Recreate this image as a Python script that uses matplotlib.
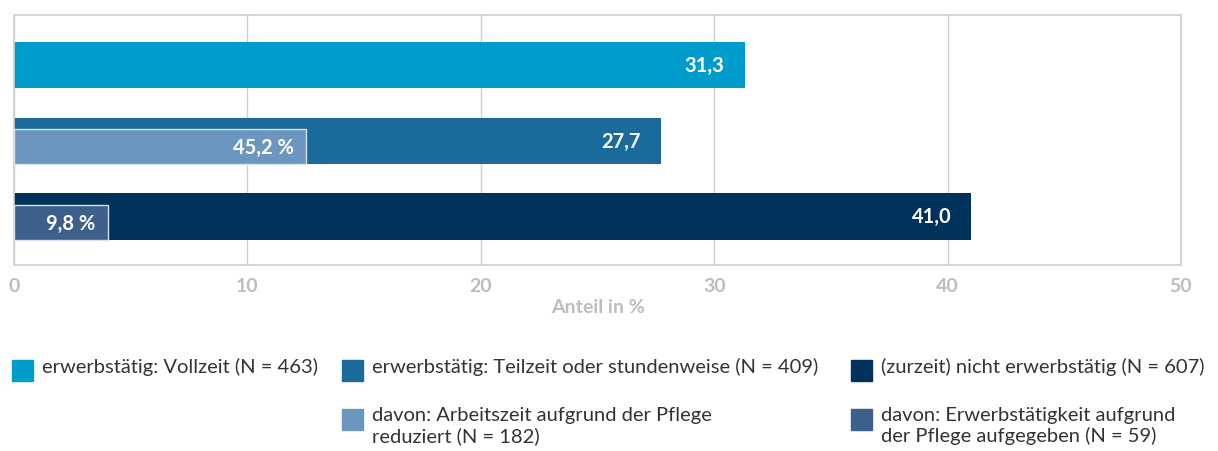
import matplotlib.pyplot as plt
from matplotlib.patches import Rectangle

plt.rcParams['font.family'] = ['Lato', 'DejaVu Sans']

# data
groups = ["erwerbstätig: Vollzeit (N = 463)",
          "erwerbstätig: Teilzeit oder stundenweise (N = 409)",
          "(zurzeit) nicht erwerbstätig (N = 607)"]
values = [31.3, 27.7, 41.0]
value_labels = ["31,3", "27,7", "41,0"]
colors = ["#009ccb", "#1a6a9b", "#00325b"]

# "davon" shares (percent of parent bar), None = no sub bar
sub_shares = [None, 45.2, 9.8]
sub_labels = [None, "45,2 %", "9,8 %"]
sub_legend = [None, "davon: Arbeitszeit aufgrund der Pflege\nreduziert (N = 182)",
              "davon: Erwerbstätigkeit aufgrund\nder Pflege aufgegeben (N = 59)"]
sub_colors = [None, "#6b96bf", "#3d5f8b"]

W, H = 1218, 451
fig = plt.figure(figsize=(W / 100, H / 100), dpi=100)
ax = fig.add_axes([14 / W, (H - 265) / H, (1181 - 14) / W, 250 / H])

pos = [0, 1, 2]
bh = 0.61
sub_h = 0.462
ax.barh(pos, values, height=bh, color=colors, zorder=2)
for i, v in enumerate(values):
    ax.text(v - 0.85, pos[i] + 0.01, value_labels[i], ha='right', va='center',
            color='white', fontsize=14.5, fontweight='bold', zorder=4)
    if sub_shares[i] is not None:
        w = v * sub_shares[i] / 100
        yc = pos[i] + bh / 2 - sub_h / 2
        ax.barh(yc, w, height=sub_h, color=sub_colors[i], edgecolor='#d8e3ee',
                linewidth=1, zorder=3)
        ax.text(w - 0.55, yc + 0.02, sub_labels[i], ha='right', va='center',
                color='white', fontsize=14.5, fontweight='bold', zorder=4)

ax.set_xlim(0, 50)
ax.set_ylim(2.64, -0.66)
ax.set_xticks([0, 10, 20, 30, 40, 50])
ax.set_yticks([])
ax.grid(axis='x', color='#d0d0d0', linewidth=1, zorder=0)
for s in ax.spines.values():
    s.set_color('#d0d0d0')
    s.set_linewidth(1.2)
ax.tick_params(axis='x', length=0, pad=9, labelsize=14, labelcolor='#bdbdbd')
for t in ax.get_xticklabels():
    t.set_fontweight('bold')
ax.set_xlabel("Anteil in %", color='#bdbdbd', fontsize=14, fontweight='bold',
              labelpad=3)

# legend drawn manually in pixel positions
def add_entry(x, y, color, label):
    fig.add_artist(Rectangle((x / W, 1 - (y + 10.5) / H), 21 / W, 21 / H,
                             transform=fig.transFigure, color=color))
    fig.text((x + 30) / W, 1 - (y - 12) / H, label, ha='left', va='top',
             fontsize=14.5, color='#333333', linespacing=1.2)

add_entry(12, 370, colors[0], groups[0])
add_entry(342, 370, colors[1], groups[1])
add_entry(851, 370, colors[2], groups[2])
add_entry(342, 419, sub_colors[1], sub_legend[1])
add_entry(851, 419, sub_colors[2], sub_legend[2])

fig.savefig("out.png", dpi=100)
